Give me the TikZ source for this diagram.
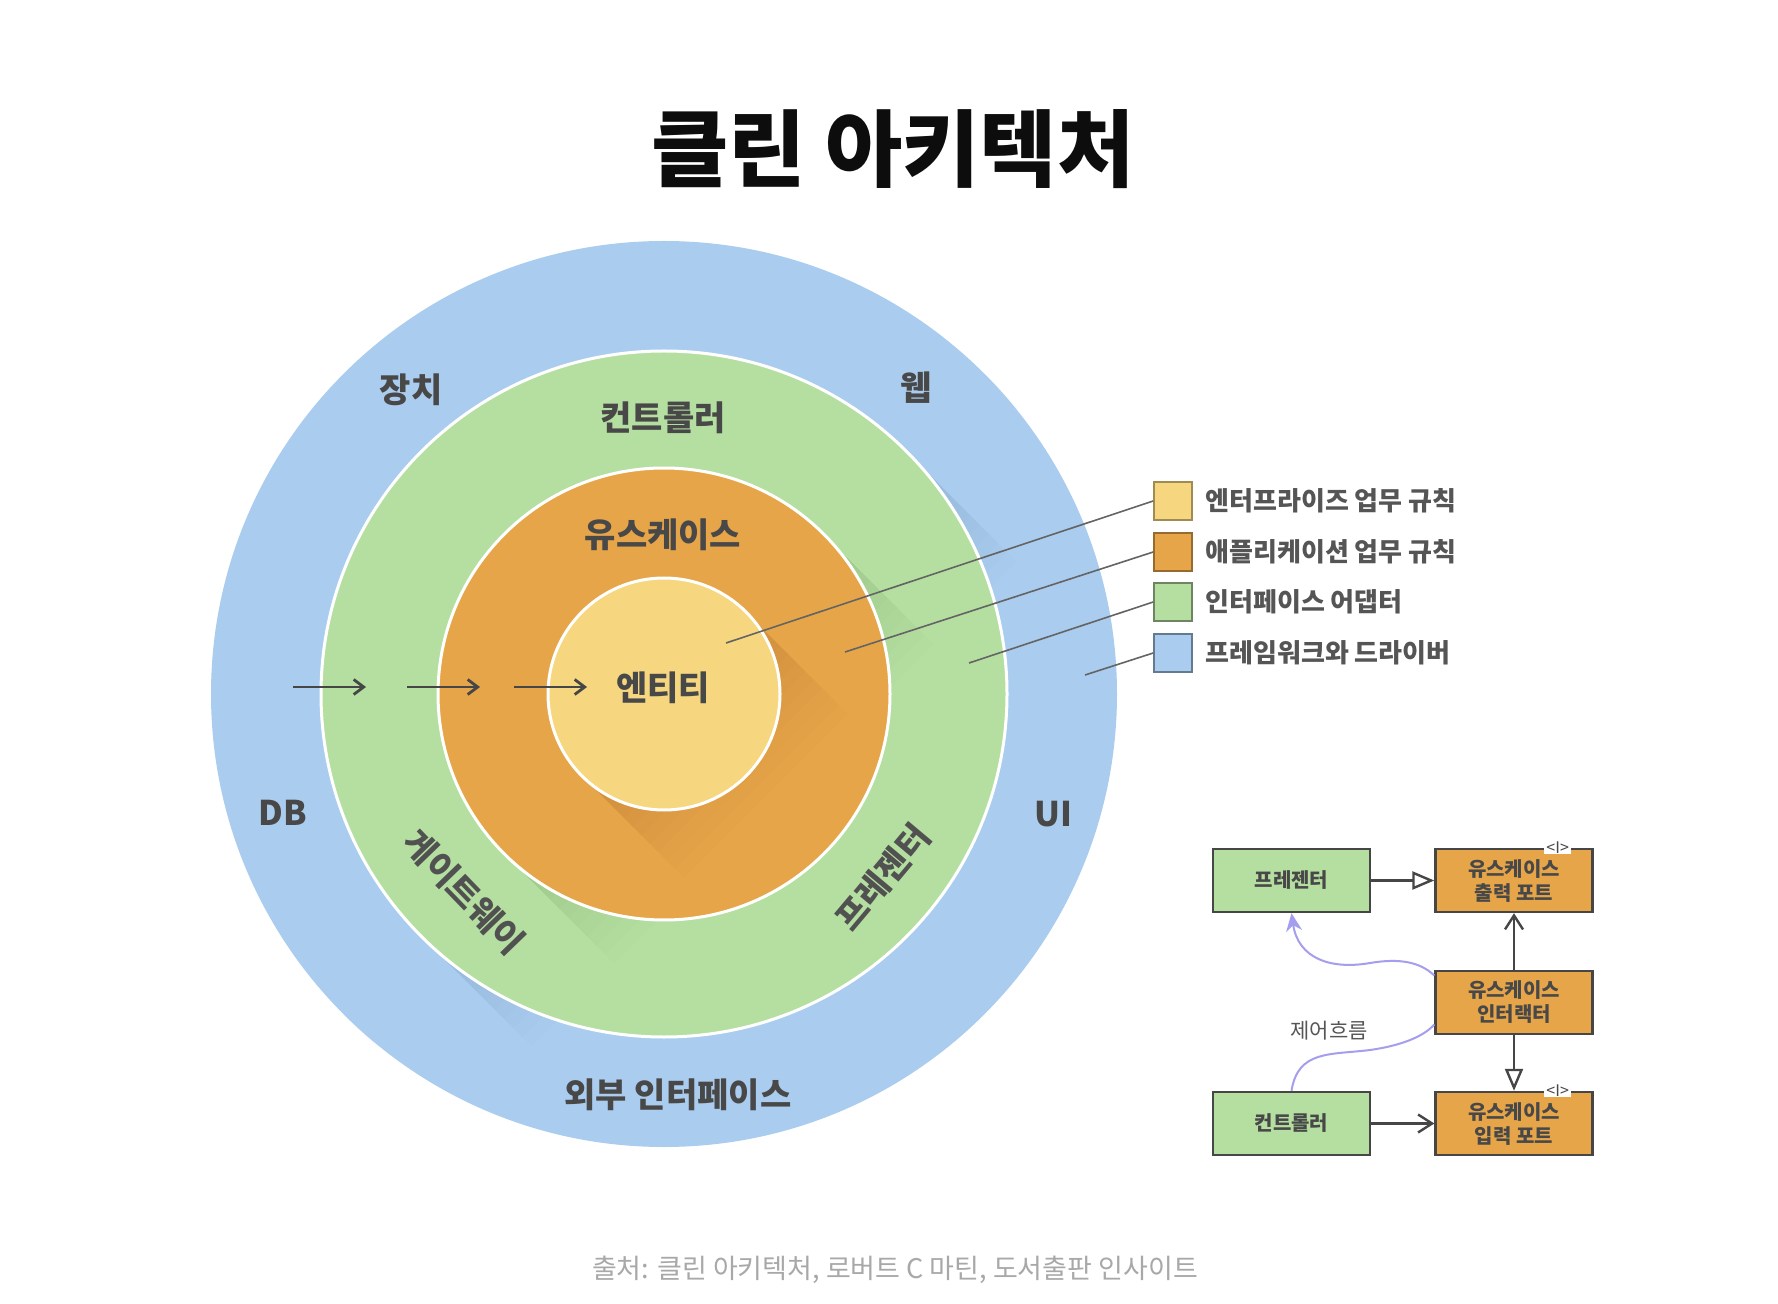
\documentclass[tikz,border=0pt]{standalone}
\usepackage{fontspec}
\setmainfont{Noto Sans CJK KR}
\usetikzlibrary{arrows.meta,calc}
\definecolor{cBlue}{RGB}{170,204,238}
\definecolor{cGreen}{RGB}{181,223,161}
\definecolor{cOrange}{RGB}{231,165,73}
\definecolor{cYellow}{RGB}{246,215,127}
\definecolor{cText}{RGB}{72,72,72}
\definecolor{cLegText}{RGB}{85,85,85}
\definecolor{cLine}{RGB}{100,100,100}
\definecolor{cFoot}{RGB}{168,168,168}
\definecolor{cFlow}{RGB}{165,158,238}
\definecolor{cBorder}{RGB}{70,70,70}
\newcommand\ringshadow[4]{% radius, layers, step, opacity
  \foreach \k in {1,...,#2}{%
    \fill[black,opacity=#4] ($(C)+(-45:#1)$) -- ++(45:{\k*#3}) -- ++(135:{2*#1}) -- ($(C)+(135:#1)$) -- cycle;
  }%
}
\begin{document}
\begin{tikzpicture}[x=0.5pt,y=-0.5pt,
  lbl/.style={font=\bfseries\fontsize{17}{20}\selectfont, text=cText, inner sep=0pt},
  rotlbl/.style={font=\bfseries\fontsize{17}{20}\selectfont, text=cText!95, inner sep=0pt},
  ring/.style={draw=white, line width=1.5pt},
  flowarrow/.style={draw=cBorder, line width=1.4pt, -{Straight Barb[length=5pt,width=7.5pt]}},
  legbox/.style={minimum size=19pt, inner sep=0pt, line width=0.8pt},
  legtxt/.style={font=\bfseries\fontsize{13}{16}\selectfont, text=cLegText, anchor=west, inner sep=0pt},
  leader/.style={draw=cLine, line width=0.8pt},
  box/.style={minimum width=78.5pt, minimum height=31.5pt, draw=cBorder, line width=1.2pt, inner sep=0pt, align=center, font=\bfseries\fontsize{10}{12}\selectfont, text=cText},
  itag/.style={fill=white, inner xsep=1pt, inner ysep=0pt, font=\fontsize{8}{8}\selectfont, text=cText},
  conn/.style={draw=cBorder, line width=1.2pt},
  flow/.style={draw=cFlow, line width=1pt}
]
\useasboundingbox (0,0) rectangle (1778,1304);
\fill[white] (0,0) rectangle (1778,1304);

% title
\node[font=\bfseries\fontsize{42}{50}\selectfont, text=black!95, inner sep=0pt] (title) at (893,149) {클린 아키텍처};

\coordinate (C) at (664,694);
% faint outer shadow
\ringshadow{453}{4}{12}{0.012}
\fill[cBlue] (C) circle[radius=453];
\begin{scope}
  \clip (C) circle[radius=453];
  \ringshadow{343}{12}{13}{0.006}
\end{scope}
\draw[ring, fill=cGreen] (C) circle[radius=343];
\begin{scope}
  \clip (C) circle[radius=343];
  \ringshadow{226}{12}{13}{0.006}
\end{scope}
\draw[ring, fill=cOrange] (C) circle[radius=226];
\begin{scope}
  \clip (C) circle[radius=226];
  \ringshadow{116}{12}{12}{0.006}
\end{scope}
\draw[ring, fill=cYellow] (C) circle[radius=116];

% ring labels
\node[lbl] (dev) at (411,390) {장치};
\node[lbl] (web) at (916,388) {웹};
\node[lbl] (ctl) at (663,418) {컨트롤러};
\node[lbl] (uc) at (663,535) {유스케이스};
\node[lbl] (ent) at (663,688) {엔티티};
\node[lbl] (db) at (283,813) {DB};
\node[lbl] (ui) at (1053,814) {UI};
\node[rotlbl, rotate=-46] (gw) at (464,892) {게이트웨이};
\node[rotlbl, rotate=50] (prs) at (883,877) {프레젠터};
\node[lbl] (ext) at (678,1095) {외부 인터페이스};

% dependency arrows
\coordinate (a1s) at (293,687); \coordinate (a1e) at (366,687);
\coordinate (a2s) at (407,687); \coordinate (a2e) at (480,687);
\coordinate (a3s) at (514,687); \coordinate (a3e) at (587,687);
\draw[flowarrow] (a1s) -- (a1e);
\draw[flowarrow] (a2s) -- (a2e);
\draw[flowarrow] (a3s) -- (a3e);

% legend
\node[legbox, fill=cYellow, draw=cYellow!65!black] (lg1) at (1173,501) {};
\node[legbox, fill=cOrange, draw=cOrange!65!black] (lg2) at (1173,552) {};
\node[legbox, fill=cGreen, draw=cGreen!60!black] (lg3) at (1173,602) {};
\node[legbox, fill=cBlue, draw=cBlue!60!black] (lg4) at (1173,653) {};
\node[legtxt] (lt1) at (1205,501) {엔터프라이즈 업무 규칙};
\node[legtxt] (lt2) at (1205,552) {애플리케이션 업무 규칙};
\node[legtxt] (lt3) at (1205,602) {인터페이스 어댑터};
\node[legtxt] (lt4) at (1205,653) {프레임워크와 드라이버};
\coordinate (p1) at (726,643);
\coordinate (p2) at (845,652);
\coordinate (p3) at (969,663);
\coordinate (p4) at (1085,675);
\draw[leader] (lg1.west) -- (p1);
\draw[leader] (lg2.west) -- (p2);
\draw[leader] (lg3.west) -- (p3);
\draw[leader] (lg4.west) -- (p4);

% small diagram
\node[box, fill=cGreen] (pres) at (1291.5,880.5) {프레젠터};
\node[box, fill=cOrange] (outp) at (1514,880.5) {유스케이스\\출력 포트};
\node[box, fill=cOrange] (inter) at (1514,1002.5) {유스케이스\\인터랙터};
\node[box, fill=cGreen] (ctrl) at (1291.5,1123.5) {컨트롤러};
\node[box, fill=cOrange] (inp) at (1514,1123.5) {유스케이스\\입력 포트};
\node[itag] (i1) at (outp.north east) [xshift=-18pt] {<I>};
\node[itag] (i2) at (inp.north east) [xshift=-18pt] {<I>};

\draw[conn, -{Triangle[open, length=11pt, width=9pt]}] (pres) -- (outp);
\draw[conn, -{Straight Barb[length=7pt,width=9pt]}] (inter) -- (outp);
\draw[conn, -{Triangle[open, length=11pt, width=9pt]}] (inter) -- (inp);
\draw[conn, -{Straight Barb[length=7pt,width=9pt]}] (ctrl) -- (inp);

\draw[flow] (ctrl.north) .. controls (1298,1050) and (1330,1055) .. (1370,1050)
  .. controls (1405,1045) and (1425,1035) .. ($(inter.west)+(0,22)$);
\draw[flow, -{Stealth[length=9pt,width=8pt]}] ($(inter.west)+(0,-27)$) .. controls (1420,962) and (1400,958) .. (1370,963)
  .. controls (1330,970) and (1298,958) .. (pres.south);
\node[font=\fontsize{10.5}{12}\selectfont, text=cLegText, inner sep=0pt] (flowlbl) at (1329,1031) {제어흐름};

% footer
\node[font=\fontsize{13.5}{16}\selectfont, text=cFoot, inner sep=0pt] (src) at (895,1270) {출처: 클린 아키텍처, 로버트 C 마틴, 도서출판 인사이트};
\end{tikzpicture}
\end{document}
